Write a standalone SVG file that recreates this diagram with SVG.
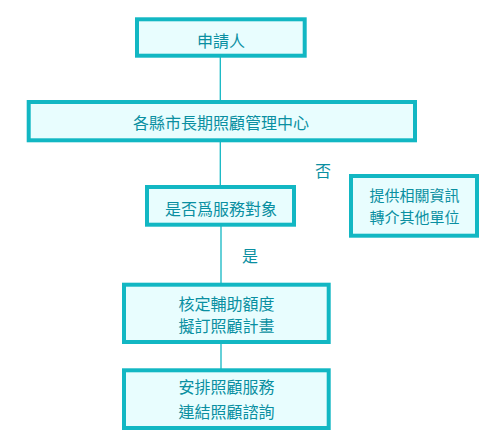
<svg xmlns="http://www.w3.org/2000/svg" width="500" height="448" viewBox="0 0 500 448">
<style>
.box{fill:#e8fdfe;stroke:#12b7c3;stroke-width:4}
.t{font-family:"Noto Sans CJK TC","Noto Sans CJK SC",sans-serif;font-size:16px;fill:#0a8fa1;text-anchor:middle;dominant-baseline:central}
.s{font-size:15px}
.c{stroke:#12b7c3;stroke-width:1.3;fill:none}
</style>
<rect width="500" height="448" fill="#ffffff"/>
<g id="connectors">
<line class="c" x1="220.3" y1="57" x2="220.3" y2="101"/>
<line class="c" x1="220.3" y1="142" x2="220.3" y2="186"/>
<line class="c" x1="221" y1="226" x2="221" y2="284"/>
<line class="c" x1="221" y1="343" x2="221" y2="369"/>
<text class="t" x="323" y="170">否</text>
<text class="t" x="250" y="255">是</text>
</g>
<g id="n1"><rect class="box" x="137" y="19.3" width="167.7" height="36.4"/><text class="t" x="221" y="39.5">申請人</text></g>
<g id="n2"><rect class="box" x="28.7" y="102" width="386.3" height="38.3"/><text class="t" x="221" y="122">各縣市長期照顧管理中心</text></g>
<g id="n3"><rect class="box" x="147" y="187" width="147" height="37.7"/><text class="t" x="221" y="208">是否爲服務對象</text></g>
<g id="n4"><rect class="box" x="351" y="176" width="126" height="59.7"/><text class="t s" x="414.5" y="194.5">提供相關資訊</text><text class="t s" x="414.5" y="216.5">轉介其他單位</text></g>
<g id="n5"><rect class="box" x="124" y="284.7" width="204.7" height="57.3"/><text class="t" x="226.5" y="302.5">核定輔助額度</text><text class="t" x="226.5" y="325">擬訂照顧計畫</text></g>
<g id="n6"><rect class="box" x="124" y="370.3" width="204.7" height="57.7"/><text class="t" x="226.5" y="385.5">安排照顧服務</text><text class="t" x="226.5" y="410.5">連結照顧諮詢</text></g>
</svg>
